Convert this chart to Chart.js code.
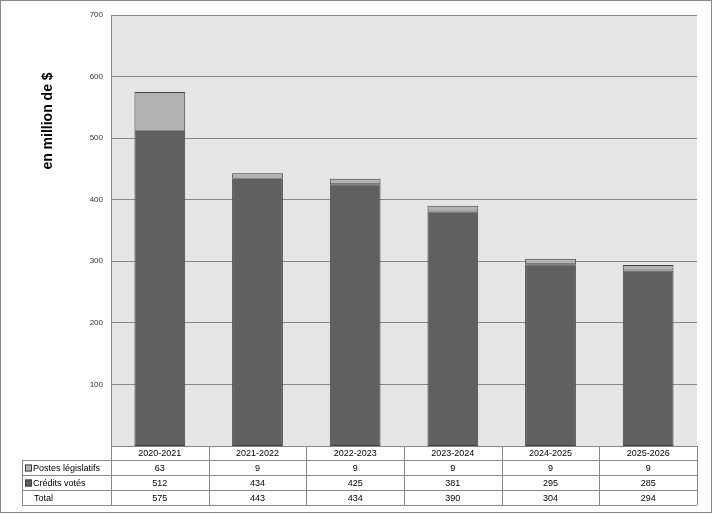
<!DOCTYPE html>
<html>
<head>
<meta charset="utf-8">
<script src="https://cdn.jsdelivr.net/npm/chart.js@4"></script>
<style>
  body { margin: 0; background: #fff; }
  #wrap { width: 715px; height: 514px; }
</style>
</head>
<body>
<div id="wrap"><canvas id="chart" width="715" height="514"></canvas></div>
<script>
// data
const years = ["2020-2021", "2021-2022", "2022-2023", "2023-2024", "2024-2025", "2025-2026"];
const postes = [63, 9, 9, 9, 9, 9];
const credits = [512, 434, 425, 381, 295, 285];
const totals = [575, 443, 434, 390, 304, 294];
const yTicks = [100, 200, 300, 400, 500, 600, 700];

const lightGray = "#b3b3b3";
const darkGray = "#606060";
const lineGray = "#888888";
const textFont = "9px Arial, 'Liberation Sans', sans-serif";

// background of the plot area, border of the whole picture, title and data table
const decor = {
  id: "decor",
  beforeDraw(chart) {
    const { ctx, chartArea: a } = chart;
    ctx.save();
    ctx.fillStyle = "#e6e6e6";
    ctx.fillRect(a.left, a.top, a.right - a.left, a.bottom - a.top);
    ctx.restore();
  },
  afterDraw(chart) {
    const { ctx, chartArea: a } = chart;
    const x = chart.scales.x;
    ctx.save();

    // plot frame (top and left)
    ctx.strokeStyle = lineGray;
    ctx.lineWidth = 1;
    ctx.beginPath();
    ctx.moveTo(a.left + 0.5, a.bottom);
    ctx.lineTo(a.left + 0.5, a.top + 0.5);
    ctx.lineTo(a.right, a.top + 0.5);
    ctx.stroke();

    // outer border
    ctx.strokeRect(0.5, 0.5, 711, 512);

    // y axis title
    ctx.fillStyle = "#000";
    ctx.font = "bold 14px Arial, 'Liberation Sans', sans-serif";
    ctx.translate(48, 121);
    ctx.rotate(-Math.PI / 2);
    ctx.textAlign = "center";
    ctx.textBaseline = "middle";
    ctx.fillText("en million de $", 0, 0);
    ctx.setTransform(1, 0, 0, 1, 0, 0);

    // data table
    const rows = [446, 460, 475, 490, 505];
    const tableLeft = 22;
    const colW = (a.right - a.left) / years.length;
    ctx.strokeStyle = lineGray;
    ctx.beginPath();
    // horizontal lines
    ctx.moveTo(a.left, rows[0] + 0.5); ctx.lineTo(a.right, rows[0] + 0.5);
    for (let i = 1; i < rows.length; i++) {
      ctx.moveTo(tableLeft, rows[i] + 0.5);
      ctx.lineTo(a.right, rows[i] + 0.5);
    }
    // vertical lines
    ctx.moveTo(tableLeft + 0.5, rows[1]); ctx.lineTo(tableLeft + 0.5, rows[4]);
    for (let i = 0; i <= years.length; i++) {
      const vx = Math.round(a.left + i * colW) + 0.5;
      ctx.moveTo(vx, rows[0]); ctx.lineTo(vx, rows[4]);
    }
    ctx.stroke();

    ctx.fillStyle = "#000";
    ctx.font = textFont;
    ctx.textAlign = "center";
    ctx.textBaseline = "middle";
    const rowVals = [postes, credits, totals];
    years.forEach((y, i) => {
      const cx = x.getPixelForValue(i);
      ctx.fillText(y, cx, (rows[0] + rows[1]) / 2 + 1);
      rowVals.forEach((vals, r) => {
        ctx.fillText(String(vals[i]), cx, (rows[r + 1] + rows[r + 2]) / 2 + 1);
      });
    });

    // row labels with legend keys
    ctx.textAlign = "left";
    const labels = ["Postes législatifs", "Crédits votés", "Total"];
    const keys = [lightGray, darkGray, null];
    labels.forEach((t, r) => {
      const cy = (rows[r + 1] + rows[r + 2]) / 2 + 1;
      if (keys[r]) {
        ctx.fillStyle = keys[r];
        ctx.fillRect(25, cy - 4, 7, 7);
        ctx.strokeStyle = "#404040";
        ctx.strokeRect(25.5, cy - 3.5, 6, 6);
      }
      ctx.fillStyle = "#000";
      ctx.fillText(t, keys[r] ? 33 : 34, cy);
    });
    ctx.restore();
  }
};

new Chart(document.getElementById("chart"), {
  type: "bar",
  data: {
    labels: years,
    datasets: [
      {
        label: "Crédits votés",
        data: credits,
        backgroundColor: darkGray,
        borderColor: "#404040",
        borderWidth: 1,
        borderSkipped: false
      },
      {
        label: "Postes législatifs",
        data: postes,
        backgroundColor: lightGray,
        borderColor: "#404040",
        borderWidth: 1,
        borderSkipped: false
      }
    ]
  },
  options: {
    responsive: false,
    animation: false,
    layout: { padding: { left: 0, top: 15, right: 18, bottom: 68 } },
    plugins: {
      legend: { display: false },
      tooltip: { enabled: false }
    },
    datasets: { bar: { barPercentage: 0.52, categoryPercentage: 1 } },
    scales: {
      x: {
        stacked: true,
        display: false
      },
      y: {
        stacked: true,
        min: 0,
        max: 700,
        afterFit(scale) { scale.width = 111; },
        afterBuildTicks(scale) { scale.ticks = yTicks.map(v => ({ value: v })); },
        border: { display: false },
        grid: { color: lineGray, drawTicks: false, lineWidth: 1 },
        ticks: {
          padding: 8,
          color: "#333",
          font: { family: "Arial, 'Liberation Sans', sans-serif", size: 8 }
        }
      }
    }
  },
  plugins: [decor]
});
</script>
</body>
</html>
